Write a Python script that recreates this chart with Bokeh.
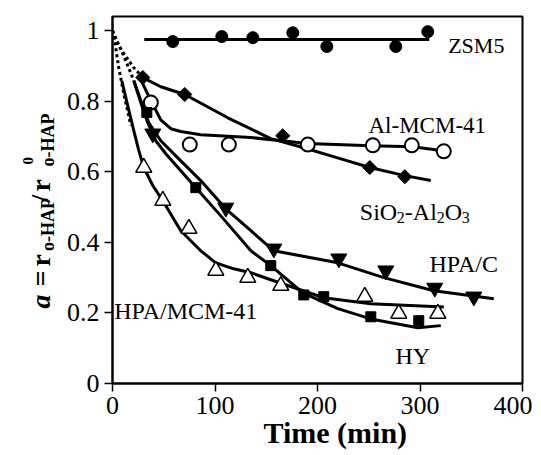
import math
from bokeh.plotting import figure
from bokeh.layouts import row
from bokeh.models import Range1d, FixedTicker, Label, Title
from bokeh.core.properties import value
from bokeh.embed import file_html
from bokeh.resources import INLINE

# ---------------- data ----------------
X_TICKS = [0, 100, 200, 300, 400]
X_TICK_LABELS = ["0", "100", "200", "300", "400"]
Y_TICKS = [0, 0.2, 0.4, 0.6, 0.8, 1.0]
Y_TICK_LABELS = ["0", "0.2", "0.4", "0.6", "0.8", "1"]

# ZSM5 (filled circles)
ZSM5_T = [58.8, 106.6, 136.9, 175.9, 209.1, 276.4, 307.6]
ZSM5_A = [0.969, 0.983, 0.980, 0.994, 0.955, 0.955, 0.997]
ZSM5_FIT_T = [31.0, 309.0]
ZSM5_FIT_A = [0.975, 0.975]

# SiO2-Al2O3 (filled diamonds)
SIAL_T = [29.6, 70.5, 166.1, 251.0, 285.2]
SIAL_A = [0.867, 0.819, 0.702, 0.612, 0.586]
SIAL_FIT_T = [29.6, 47.1, 70.5, 112.5, 154.4, 186.6, 218.8, 251.0, 285.2, 310.5]
SIAL_FIT_A = [0.867, 0.841, 0.819, 0.753, 0.694, 0.668, 0.640, 0.612, 0.589, 0.575]

# Al-MCM-41 (open circles)
ALMCM_T = [37.4, 75.4, 113.5, 190.5, 254.0, 292.0, 323.2]
ALMCM_A = [0.796, 0.677, 0.677, 0.677, 0.675, 0.675, 0.658]
ALMCM_FIT_T = [27.6, 37.4, 47.1, 56.9, 66.6, 86.1, 135.0, 190.5, 252.0, 293.0, 320.3]
ALMCM_FIT_A = [0.861, 0.802, 0.747, 0.722, 0.714, 0.705, 0.697, 0.680, 0.674, 0.671, 0.660]

# HY (filled squares)
HY_T = [33.5, 81.3, 154.4, 186.6, 206.1, 252.0, 298.8]
HY_A = [0.768, 0.555, 0.334, 0.251, 0.246, 0.189, 0.178]
HY_FIT_T = [20.8, 27.6, 34.4, 42.2, 52.0, 66.6, 81.3, 105.7, 135.0, 154.4, 185.7, 219.8, 252.0, 297.9, 320.3]
HY_FIT_A = [0.858, 0.796, 0.739, 0.688, 0.651, 0.603, 0.555, 0.475, 0.376, 0.334, 0.257, 0.212, 0.183, 0.158, 0.164]

# HPA/C (filled inverted triangles)
HPAC_T = [39.3, 110.5, 157.4, 220.8, 266.6, 314.4, 352.5]
HPAC_A = [0.708, 0.498, 0.382, 0.354, 0.320, 0.271, 0.246]
HPAC_FIT_T = [20.8, 27.6, 35.4, 47.1, 66.6, 86.1, 110.5, 135.0, 157.4, 188.6, 219.8, 264.7, 313.5, 372.0]
HPAC_FIT_A = [0.858, 0.802, 0.739, 0.688, 0.631, 0.575, 0.495, 0.433, 0.376, 0.359, 0.342, 0.300, 0.263, 0.240]

# HPA/MCM-41 (open triangles)
HPAMCM_T = [30.5, 49.1, 74.5, 100.8, 132.0, 164.2, 246.1, 279.3, 317.4]
HPAMCM_A = [0.612, 0.518, 0.439, 0.320, 0.300, 0.277, 0.246, 0.198, 0.198]
HPAMCM_FIT_T = [9.1, 14.9, 20.8, 25.7, 30.5, 39.3, 49.1, 66.6, 86.1, 100.8, 118.3, 135.0, 154.4, 206.1, 252.0, 323.2]
HPAMCM_FIT_A = [0.858, 0.787, 0.716, 0.660, 0.612, 0.561, 0.518, 0.433, 0.376, 0.342, 0.325, 0.314, 0.294, 0.243, 0.226, 0.217]

# dotted initial segments from (0, 1)
DOT1_T = [0.0, 3.2, 11.0, 20.8, 29.6]
DOT1_A = [1.0, 0.972, 0.935, 0.895, 0.867]
DOT2_T = [0.0, 5.2, 10.0, 14.9, 20.8]
DOT2_A = [1.0, 0.966, 0.935, 0.901, 0.858]
DOT3_T = [0.0, 1.3, 6.1, 11.0, 17.9]
DOT3_A = [1.0, 0.986, 0.895, 0.821, 0.731]

SERIF = "Liberation Serif"
H = 452          # total height
STRIP_W = 58     # width of the strip holding the y-axis title
TOP, BOTTOM = 16, 69

# ---------------- main plot ----------------
p = figure(width=474, height=H, x_range=Range1d(0, 400), y_range=Range1d(0, 1.04),
           output_backend="svg", toolbar_location=None, title=None,
           min_border_left=54, min_border_right=10, min_border_top=TOP, min_border_bottom=BOTTOM)
p.xgrid.visible = False
p.ygrid.visible = False
p.outline_line_color = "black"
p.outline_line_width = 2
p.background_fill_color = "white"
p.border_fill_color = "white"

for ax in (p.xaxis[0], p.yaxis[0]):
    ax.axis_line_width = 2
    ax.axis_line_color = "black"
    ax.major_tick_line_width = 1.5
    ax.major_tick_line_color = "black"
    ax.major_tick_out = 8
    ax.major_tick_in = 0
    ax.minor_tick_line_color = None
    ax.major_label_text_font = SERIF
    ax.major_label_text_font_size = "26px"
    ax.major_label_text_color = "black"
    ax.major_label_standoff = 5
p.xaxis.ticker = FixedTicker(ticks=X_TICKS)
p.xaxis.major_label_overrides = dict(zip(X_TICKS, X_TICK_LABELS))
p.yaxis.ticker = FixedTicker(ticks=Y_TICKS)
p.yaxis.major_label_overrides = dict(zip(Y_TICKS, Y_TICK_LABELS))

LW = 3
for tt, aa in ((DOT1_T, DOT1_A), (DOT2_T, DOT2_A), (DOT3_T, DOT3_A)):
    p.line(tt, aa, line_color="black", line_width=LW, line_dash="3 3")
for tt, aa in ((ZSM5_FIT_T, ZSM5_FIT_A), (SIAL_FIT_T, SIAL_FIT_A), (ALMCM_FIT_T, ALMCM_FIT_A),
               (HY_FIT_T, HY_FIT_A), (HPAC_FIT_T, HPAC_FIT_A), (HPAMCM_FIT_T, HPAMCM_FIT_A)):
    p.line(tt, aa, line_color="black", line_width=LW, line_join="round")

p.scatter(ZSM5_T, ZSM5_A, marker="circle", size=12, fill_color="black", line_color="black")
p.scatter(SIAL_T, SIAL_A, marker="square", size=10, angle=math.pi / 4, fill_color="black", line_color="black")
p.scatter(ALMCM_T, ALMCM_A, marker="circle", size=14, fill_color="white", line_color="black", line_width=2)
p.scatter(HY_T, HY_A, marker="square", size=10, fill_color="black", line_color="black")
p.scatter(HPAC_T, HPAC_A, marker="inverted_triangle", size=16, fill_color="black", line_color="black")
p.scatter(HPAMCM_T, HPAMCM_A, marker="triangle", size=16, fill_color="white", line_color="black", line_width=1.5)


def lab(x, y, text, align="center", size="24px", xo=0, yo=0):
    p.add_layout(Label(x=x, y=y, text=text, text_align=align, text_baseline="alphabetic",
                       text_font=SERIF, text_font_size=size, text_color="black",
                       x_offset=xo, y_offset=yo))


lab(354.9, 0.957, "ZSM5", size="22px")
lab(307.1, 0.731, "Al-MCM-41", size="23px")
lab(342.7, 0.339, "HPA/C")
lab(71.5, 0.206, "HPA/MCM-41")
lab(293.0, 0.078, "HY")
sx0, sy0 = 241.3, 0.487
lab(sx0, sy0, "SiO", align="left", xo=0)
lab(sx0, sy0, "2", align="left", size="16px", xo=37, yo=-6)
lab(sx0, sy0, "-Al", align="left", xo=45)
lab(sx0, sy0, "2", align="left", size="16px", xo=77, yo=-6)
lab(sx0, sy0, "O", align="left", xo=85)
lab(sx0, sy0, "3", align="left", size="16px", xo=102, yo=-6)

# x-axis title
p.add_layout(Title(text="Time (min)", align="left", offset=151, standoff=-6,
                   text_font=SERIF, text_font_size="30px", text_font_style="bold",
                   text_color="black"), "below")

# ---------------- strip with the y-axis title ----------------
# its frame is aligned with the main frame (page y 16..383); data y = H - page y
q = figure(width=STRIP_W, height=H, x_range=Range1d(0, STRIP_W), y_range=Range1d(H - (H - BOTTOM), H - TOP),
           output_backend="svg", toolbar_location=None, title=None,
           x_axis_type=None, y_axis_type=None,
           min_border_left=0, min_border_right=0, min_border_top=TOP, min_border_bottom=BOTTOM)
q.xgrid.visible = False
q.ygrid.visible = False
q.outline_line_color = None
q.background_fill_color = "white"
q.border_fill_color = "white"

R = math.pi / 2
def ytxt(x, y, text, size, style="bold"):
    q.text(x=[x], y=[y], text=[text], angle=R, text_font=value(SERIF),
           text_font_size=value(size), text_font_style=value(style),
           text_align="left", text_baseline="alphabetic", text_color="black")

ytxt(40, H - 308, "a", "28px", style="bold italic")
ytxt(40, H - 286, "=", "28px")
ytxt(40, H - 266, "r", "28px")
ytxt(47, H - 250.5, "o-HAP", "18px")
ytxt(40, H - 202, "/", "28px")
ytxt(40, H - 191, "r", "28px")
ytxt(27, H - 164, "0", "15px")
ytxt(47, H - 166, "o-HAP", "18px")

layout = row(q, p, spacing=0)
open("out.html", "w").write(file_html(layout, INLINE))
